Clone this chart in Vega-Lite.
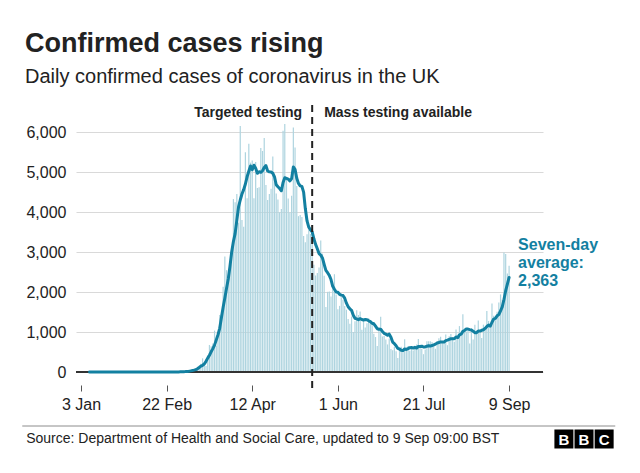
{
  "$schema": "https://vega.github.io/schema/vega-lite/v6.json",
  "width": 467,
  "height": 240,
  "autosize": {"type": "none"},
  "padding": {"left": 76, "top": 132, "right": 97, "bottom": 101},
  "background": "white",
  "title": {
    "text": "Confirmed cases rising",
    "subtitle": "Daily confirmed cases of coronavirus in the UK",
    "anchor": "start",
    "frame": "group",
    "dx": -51,
    "offset": 13,
    "font": "Liberation Sans",
    "fontSize": 27,
    "fontWeight": "bold",
    "color": "#222222",
    "subtitleFont": "Liberation Sans",
    "subtitleFontSize": 20,
    "subtitleColor": "#222222",
    "subtitlePadding": 9
  },
  "resolve": {"axis": {"x": "independent", "y": "independent"}},
  "datasets": {
    "daily": [
      {"d":"2020-01-08","n":0,"a":0},
      {"d":"2020-02-29","n":0,"a":3},
      {"d":"2020-03-01","n":13,"a":4},
      {"d":"2020-03-02","n":4,"a":5},
      {"d":"2020-03-03","n":11,"a":7},
      {"d":"2020-03-04","n":34,"a":10},
      {"d":"2020-03-05","n":30,"a":15},
      {"d":"2020-03-06","n":48,"a":21},
      {"d":"2020-03-07","n":43,"a":28},
      {"d":"2020-03-08","n":67,"a":36},
      {"d":"2020-03-09","n":48,"a":46},
      {"d":"2020-03-10","n":61,"a":60},
      {"d":"2020-03-11","n":74,"a":80},
      {"d":"2020-03-12","n":134,"a":112},
      {"d":"2020-03-13","n":208,"a":147},
      {"d":"2020-03-14","n":342,"a":168},
      {"d":"2020-03-15","n":251,"a":200},
      {"d":"2020-03-16","n":152,"a":267},
      {"d":"2020-03-17","n":407,"a":347},
      {"d":"2020-03-18","n":676,"a":419},
      {"d":"2020-03-19","n":643,"a":505},
      {"d":"2020-03-20","n":714,"a":584},
      {"d":"2020-03-21","n":1035,"a":672},
      {"d":"2020-03-22","n":665,"a":803},
      {"d":"2020-03-23","n":967,"a":931},
      {"d":"2020-03-24","n":1427,"a":1092},
      {"d":"2020-03-25","n":1452,"a":1354},
      {"d":"2020-03-26","n":2129,"a":1617},
      {"d":"2020-03-27","n":2885,"a":1851},
      {"d":"2020-03-28","n":2546,"a":2095},
      {"d":"2020-03-29","n":2433,"a":2326},
      {"d":"2020-03-30","n":2619,"a":2644},
      {"d":"2020-03-31","n":3009,"a":3000},
      {"d":"2020-04-01","n":4324,"a":3263},
      {"d":"2020-04-02","n":4244,"a":3460},
      {"d":"2020-04-03","n":4450,"a":3793},
      {"d":"2020-04-04","n":3735,"a":4126},
      {"d":"2020-04-05","n":6150,"a":4300},
      {"d":"2020-04-06","n":3802,"a":4450},
      {"d":"2020-04-07","n":3634,"a":4560},
      {"d":"2020-04-08","n":5491,"a":4700},
      {"d":"2020-04-09","n":4344,"a":4880},
      {"d":"2020-04-10","n":5706,"a":5020},
      {"d":"2020-04-11","n":5234,"a":5150},
      {"d":"2020-04-12","n":5288,"a":5060},
      {"d":"2020-04-13","n":4342,"a":5170},
      {"d":"2020-04-14","n":5252,"a":5094},
      {"d":"2020-04-15","n":4603,"a":4967},
      {"d":"2020-04-16","n":4617,"a":5006},
      {"d":"2020-04-17","n":5599,"a":4991},
      {"d":"2020-04-18","n":5526,"a":5032},
      {"d":"2020-04-19","n":5850,"a":5113},
      {"d":"2020-04-20","n":4676,"a":5160},
      {"d":"2020-04-21","n":4301,"a":5025},
      {"d":"2020-04-22","n":4451,"a":5003},
      {"d":"2020-04-23","n":4583,"a":4998},
      {"d":"2020-04-24","n":5386,"a":4968},
      {"d":"2020-04-25","n":4913,"a":4880},
      {"d":"2020-04-26","n":4463,"a":4682},
      {"d":"2020-04-27","n":4310,"a":4630},
      {"d":"2020-04-28","n":3996,"a":4586},
      {"d":"2020-04-29","n":4076,"a":4532},
      {"d":"2020-04-30","n":6032,"a":4739},
      {"d":"2020-05-01","n":6201,"a":4856},
      {"d":"2020-05-02","n":4806,"a":4841},
      {"d":"2020-05-03","n":4339,"a":4823},
      {"d":"2020-05-04","n":3985,"a":4776},
      {"d":"2020-05-05","n":4406,"a":4835},
      {"d":"2020-05-06","n":6111,"a":5126},
      {"d":"2020-05-07","n":5614,"a":5066},
      {"d":"2020-05-08","n":4649,"a":4844},
      {"d":"2020-05-09","n":3896,"a":4714},
      {"d":"2020-05-10","n":3923,"a":4655},
      {"d":"2020-05-11","n":3877,"a":4639},
      {"d":"2020-05-12","n":3403,"a":4496},
      {"d":"2020-05-13","n":3242,"a":4086},
      {"d":"2020-05-14","n":3446,"a":3777},
      {"d":"2020-05-15","n":3560,"a":3621},
      {"d":"2020-05-16","n":3450,"a":3557},
      {"d":"2020-05-17","n":3534,"a":3502},
      {"d":"2020-05-18","n":2684,"a":3331},
      {"d":"2020-05-19","n":2412,"a":3190},
      {"d":"2020-05-20","n":2472,"a":3080},
      {"d":"2020-05-21","n":2615,"a":2961},
      {"d":"2020-05-22","n":3287,"a":2922},
      {"d":"2020-05-23","n":2959,"a":2852},
      {"d":"2020-05-24","n":2409,"a":2691},
      {"d":"2020-05-25","n":1625,"a":2540},
      {"d":"2020-05-26","n":2004,"a":2482},
      {"d":"2020-05-27","n":2013,"a":2416},
      {"d":"2020-05-28","n":1887,"a":2312},
      {"d":"2020-05-29","n":2095,"a":2142},
      {"d":"2020-05-30","n":2445,"a":2068},
      {"d":"2020-05-31","n":1936,"a":2001},
      {"d":"2020-06-01","n":1570,"a":1993},
      {"d":"2020-06-02","n":1653,"a":1943},
      {"d":"2020-06-03","n":1871,"a":1922},
      {"d":"2020-06-04","n":1805,"a":1911},
      {"d":"2020-06-05","n":1650,"a":1847},
      {"d":"2020-06-06","n":1557,"a":1720},
      {"d":"2020-06-07","n":1326,"a":1633},
      {"d":"2020-06-08","n":1205,"a":1581},
      {"d":"2020-06-09","n":1387,"a":1543},
      {"d":"2020-06-10","n":1003,"a":1419},
      {"d":"2020-06-11","n":1266,"a":1342},
      {"d":"2020-06-12","n":1541,"a":1326},
      {"d":"2020-06-13","n":1425,"a":1308},
      {"d":"2020-06-14","n":1514,"a":1334},
      {"d":"2020-06-15","n":1056,"a":1313},
      {"d":"2020-06-16","n":1279,"a":1298},
      {"d":"2020-06-17","n":1115,"a":1314},
      {"d":"2020-06-18","n":1218,"a":1307},
      {"d":"2020-06-19","n":1346,"a":1279},
      {"d":"2020-06-20","n":1295,"a":1260},
      {"d":"2020-06-21","n":1221,"a":1219},
      {"d":"2020-06-22","n":958,"a":1205},
      {"d":"2020-06-23","n":874,"a":1147},
      {"d":"2020-06-24","n":653,"a":1081},
      {"d":"2020-06-25","n":1118,"a":1066},
      {"d":"2020-06-26","n":1380,"a":1071},
      {"d":"2020-06-27","n":890,"a":1013},
      {"d":"2020-06-28","n":901,"a":968},
      {"d":"2020-06-29","n":815,"a":947},
      {"d":"2020-06-30","n":689,"a":921},
      {"d":"2020-07-01","n":829,"a":946},
      {"d":"2020-07-02","n":576,"a":869},
      {"d":"2020-07-03","n":544,"a":749},
      {"d":"2020-07-04","n":624,"a":711},
      {"d":"2020-07-05","n":516,"a":656},
      {"d":"2020-07-06","n":352,"a":590},
      {"d":"2020-07-07","n":581,"a":575},
      {"d":"2020-07-08","n":630,"a":546},
      {"d":"2020-07-09","n":512,"a":537},
      {"d":"2020-07-10","n":820,"a":576},
      {"d":"2020-07-11","n":540,"a":564},
      {"d":"2020-07-12","n":650,"a":584},
      {"d":"2020-07-13","n":530,"a":609},
      {"d":"2020-07-14","n":598,"a":611},
      {"d":"2020-07-15","n":538,"a":598},
      {"d":"2020-07-16","n":642,"a":617},
      {"d":"2020-07-17","n":687,"a":598},
      {"d":"2020-07-18","n":827,"a":639},
      {"d":"2020-07-19","n":650,"a":639},
      {"d":"2020-07-20","n":580,"a":646},
      {"d":"2020-07-21","n":445,"a":624},
      {"d":"2020-07-22","n":560,"a":627},
      {"d":"2020-07-23","n":769,"a":645},
      {"d":"2020-07-24","n":768,"a":657},
      {"d":"2020-07-25","n":767,"a":648},
      {"d":"2020-07-26","n":747,"a":662},
      {"d":"2020-07-27","n":685,"a":677},
      {"d":"2020-07-28","n":581,"a":697},
      {"d":"2020-07-29","n":763,"a":726},
      {"d":"2020-07-30","n":846,"a":737},
      {"d":"2020-07-31","n":880,"a":753},
      {"d":"2020-08-01","n":744,"a":749},
      {"d":"2020-08-02","n":743,"a":749},
      {"d":"2020-08-03","n":938,"a":785},
      {"d":"2020-08-04","n":670,"a":798},
      {"d":"2020-08-05","n":892,"a":816},
      {"d":"2020-08-06","n":950,"a":831},
      {"d":"2020-08-07","n":871,"a":830},
      {"d":"2020-08-08","n":758,"a":832},
      {"d":"2020-08-09","n":1062,"a":877},
      {"d":"2020-08-10","n":816,"a":860},
      {"d":"2020-08-11","n":1148,"a":928},
      {"d":"2020-08-12","n":1009,"a":945},
      {"d":"2020-08-13","n":1441,"a":1015},
      {"d":"2020-08-14","n":1040,"a":1039},
      {"d":"2020-08-15","n":1012,"a":1075},
      {"d":"2020-08-16","n":1040,"a":1072},
      {"d":"2020-08-17","n":713,"a":1058},
      {"d":"2020-08-18","n":1089,"a":1049},
      {"d":"2020-08-19","n":812,"a":1021},
      {"d":"2020-08-20","n":1182,"a":984},
      {"d":"2020-08-21","n":1033,"a":983},
      {"d":"2020-08-22","n":1288,"a":1022},
      {"d":"2020-08-23","n":1041,"a":1023},
      {"d":"2020-08-24","n":853,"a":1043},
      {"d":"2020-08-25","n":1184,"a":1056},
      {"d":"2020-08-26","n":1048,"a":1090},
      {"d":"2020-08-27","n":1522,"a":1138},
      {"d":"2020-08-28","n":1276,"a":1173},
      {"d":"2020-08-29","n":1108,"a":1147},
      {"d":"2020-08-30","n":1715,"a":1244},
      {"d":"2020-08-31","n":1406,"a":1323},
      {"d":"2020-09-01","n":1295,"a":1339},
      {"d":"2020-09-02","n":1508,"a":1404},
      {"d":"2020-09-03","n":1735,"a":1435},
      {"d":"2020-09-04","n":1940,"a":1530},
      {"d":"2020-09-05","n":1813,"a":1630},
      {"d":"2020-09-06","n":2988,"a":1812},
      {"d":"2020-09-07","n":2948,"a":2032},
      {"d":"2020-09-08","n":2460,"a":2199},
      {"d":"2020-09-09","n":2659,"a":2363}
    ]
  },
  "layer": [
    {
      "data": {"name": "daily"},
      "mark": {"type": "bar", "width": 1.2, "color": "#aed4df"},
      "encoding": {
        "x": {
          "field": "d", "type": "temporal",
          "scale": {"type": "utc", "nice": false, "domain": [{"year": 2020, "month": 1, "date": 3, "utc": true}, {"year": 2020, "month": 9, "date": 25, "hours": 21, "utc": true}]},
          "axis": {
            "title": null,
            "values": [
              {"year": 2020, "month": 1, "date": 3, "utc": true},
              {"year": 2020, "month": 2, "date": 22, "utc": true},
              {"year": 2020, "month": 4, "date": 12, "utc": true},
              {"year": 2020, "month": 6, "date": 1, "utc": true},
              {"year": 2020, "month": 7, "date": 21, "utc": true},
              {"year": 2020, "month": 9, "date": 9, "utc": true}
            ],
            "labelExpr": "utcFormat(datum.value, '%-d %b')",
            "labelFont": "Liberation Sans",
            "labelFontSize": 16,
            "labelColor": "#222222",
            "labelPadding": 5,
            "labelOverlap": false,
            "labelFlush": false,
            "offset": 13,
            "tickSize": 6,
            "tickColor": "#555555",
            "tickWidth": 1,
            "domain": false,
            "grid": false
          }
        },
        "y": {
          "field": "n", "type": "quantitative",
          "scale": {"domain": [0, 6000], "nice": false},
          "axis": {
            "title": null,
            "values": [0, 1000, 2000, 3000, 4000, 5000, 6000],
            "labelExpr": "format(datum.value, ',d')",
            "labelFont": "Liberation Sans",
            "labelFontSize": 16,
            "labelColor": "#222222",
            "labelPadding": 10,
            "labelOverlap": false,
            "ticks": false,
            "domain": false,
            "grid": true,
            "gridColor": "#d9d9d9",
            "gridWidth": 1
          }
        }
      }
    },
    {
      "data": {"values": [{}]},
      "mark": {"type": "rule", "color": "#333333", "strokeWidth": 2},
      "encoding": {"y": {"datum": 0, "axis": null}}
    },
    {
      "data": {"name": "daily"},
      "mark": {"type": "line", "color": "#1380a1", "strokeWidth": 3, "strokeJoin": "round", "strokeCap": "round"},
      "encoding": {
        "x": {"field": "d", "type": "temporal", "axis": null},
        "y": {"field": "a", "type": "quantitative", "axis": null}
      }
    },
    {
      "data": {"name": "daily"},
      "transform": [{"filter": "datum.d == '2020-09-09'"}],
      "mark": {"type": "point", "filled": true, "opacity": 1, "size": 45, "color": "#1380a1"},
      "encoding": {
        "x": {"field": "d", "type": "temporal", "axis": null},
        "y": {"field": "a", "type": "quantitative", "axis": null}
      }
    },
    {
      "data": {"values": [{}]},
      "mark": {"type": "rule", "color": "#222222", "strokeWidth": 2, "strokeDash": [7, 5]},
      "encoding": {
        "x": {"datum": {"year": 2020, "month": 5, "date": 17, "utc": true}, "axis": null},
        "y": {"datum": -400, "axis": null},
        "y2": {"datum": 6750}
      }
    },
    {
      "data": {"values": [{}]},
      "mark": {"type": "text", "text": "Targeted testing", "align": "right", "baseline": "middle", "dx": -10, "font": "Liberation Sans", "fontSize": 14, "fontWeight": "bold", "color": "#222222"},
      "encoding": {
        "x": {"datum": {"year": 2020, "month": 5, "date": 17, "utc": true}, "axis": null},
        "y": {"datum": 6475, "axis": null}
      }
    },
    {
      "data": {"values": [{}]},
      "mark": {"type": "text", "text": "Mass testing available", "align": "left", "baseline": "middle", "dx": 12, "font": "Liberation Sans", "fontSize": 14, "fontWeight": "bold", "color": "#222222"},
      "encoding": {
        "x": {"datum": {"year": 2020, "month": 5, "date": 17, "utc": true}, "axis": null},
        "y": {"datum": 6475, "axis": null}
      }
    },
    {
      "data": {"values": [{}]},
      "mark": {"type": "text", "text": ["Seven-day", "average:", "2,363"], "lineHeight": 18, "align": "left", "baseline": "middle", "dx": 9, "font": "Liberation Sans", "fontSize": 16, "fontWeight": "bold", "color": "#1380a1"},
      "encoding": {
        "x": {"datum": {"year": 2020, "month": 9, "date": 9, "utc": true}, "axis": null},
        "y": {"datum": 3175, "axis": null}
      }
    },
    {
      "data": {"values": [{}]},
      "mark": {"type": "rule", "color": "#8c8c8c", "strokeWidth": 1},
      "encoding": {
        "x": {"datum": {"year": 2019, "month": 11, "date": 29, "hours": 17, "utc": true}, "axis": null},
        "x2": {"datum": {"year": 2020, "month": 11, "date": 10, "utc": true}},
        "y": {"datum": -1350, "axis": null}
      }
    },
    {
      "data": {"values": [{}]},
      "mark": {"type": "text", "text": "Source: Department of Health and Social Care, updated to 9 Sep 09:00 BST", "align": "left", "baseline": "middle", "font": "Liberation Sans", "fontSize": 14, "color": "#222222"},
      "encoding": {
        "x": {"datum": {"year": 2019, "month": 12, "date": 2, "utc": true}, "axis": null},
        "y": {"datum": -1675, "axis": null}
      }
    },
    {
      "data": {"values": [{"t": "B"}]},
      "layer": [
        {"mark": {"type": "square", "filled": true, "opacity": 1, "size": 361, "color": "#000000"}},
        {"mark": {"type": "text", "align": "center", "baseline": "middle", "dy": 1, "font": "Liberation Sans", "fontSize": 15, "fontWeight": "bold", "color": "#ffffff"}, "encoding": {"text": {"field": "t"}}}
      ],
      "encoding": {
        "x": {"datum": {"year": 2020, "month": 10, "date": 11, "utc": true}, "axis": null},
        "y": {"datum": -1675, "axis": null}
      }
    },
    {
      "data": {"values": [{"t": "B"}]},
      "layer": [
        {"mark": {"type": "square", "filled": true, "opacity": 1, "size": 361, "color": "#000000"}},
        {"mark": {"type": "text", "align": "center", "baseline": "middle", "dy": 1, "font": "Liberation Sans", "fontSize": 15, "fontWeight": "bold", "color": "#ffffff"}, "encoding": {"text": {"field": "t"}}}
      ],
      "encoding": {
        "x": {"datum": {"year": 2020, "month": 10, "date": 22, "hours": 18, "utc": true}, "axis": null},
        "y": {"datum": -1675, "axis": null}
      }
    },
    {
      "data": {"values": [{"t": "C"}]},
      "layer": [
        {"mark": {"type": "square", "filled": true, "opacity": 1, "size": 361, "color": "#000000"}},
        {"mark": {"type": "text", "align": "center", "baseline": "middle", "dy": 1, "font": "Liberation Sans", "fontSize": 15, "fontWeight": "bold", "color": "#ffffff"}, "encoding": {"text": {"field": "t"}}}
      ],
      "encoding": {
        "x": {"datum": {"year": 2020, "month": 11, "date": 3, "hours": 12, "utc": true}, "axis": null},
        "y": {"datum": -1675, "axis": null}
      }
    }
  ],
  "config": {
    "font": "Liberation Sans",
    "view": {"stroke": null}
  }
}
